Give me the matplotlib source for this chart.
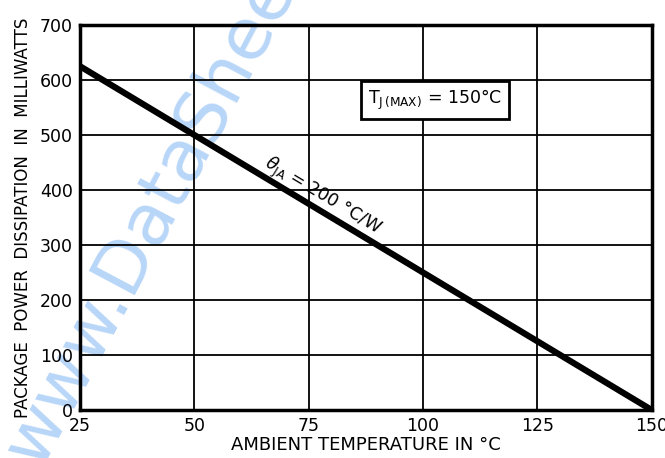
import matplotlib
matplotlib.use("Agg")
import matplotlib.pyplot as plt

# derating curve
temps = [25, 150]
power_mw = [625, 0]

x_ticks = [25, 50, 75, 100, 125, 150]
y_ticks = [0, 100, 200, 300, 400, 500, 600, 700]

plt.rcParams['font.family'] = ['DejaVu Sans']

fig = plt.figure(figsize=(6.65, 4.58), dpi=100)
ax = fig.add_axes([0.1203, 0.1048, 0.8597, 0.8406])

ax.plot(temps, power_mw, color='black', linewidth=4.5, solid_capstyle='butt', zorder=3)

ax.set_xlim(25, 150)
ax.set_ylim(0, 700)
ax.set_xticks(x_ticks)
ax.set_yticks(y_ticks)
ax.grid(True, color='black', linewidth=1.3)
ax.tick_params(length=0, labelsize=12.5, pad=5)
for s in ax.spines.values():
    s.set_linewidth(2.5)

ax.set_xlabel('AMBIENT TEMPERATURE IN °C', fontsize=13, labelpad=1)
ax.set_ylabel('PACKAGE  POWER  DISSIPATION  IN  MILLIWATTS', fontsize=12, labelpad=6)

ax.text(102.6, 563, r'T$_{\mathrm{J\,(MAX)}}$ = 150°C', fontsize=12.5, ha='center', va='center',
        bbox=dict(boxstyle='square,pad=0.4', facecolor='white', edgecolor='black', linewidth=2),
        zorder=4)
ax.text(78, 388, r'$\theta_{\mathrm{JA}}$ = 200 °C/W', fontsize=12.5, ha='center', va='center',
        rotation=-31, rotation_mode='anchor', zorder=4)

# watermark (behind the grid)
ax.text(0.06, -0.022, 'www.DataSheet4U.com', transform=fig.transFigure, fontsize=52,
        color='#b8d6f8', rotation=62, rotation_mode='anchor', ha='left', va='baseline',
        clip_on=False, zorder=0.5)

fig.savefig('out.png', dpi=100)
